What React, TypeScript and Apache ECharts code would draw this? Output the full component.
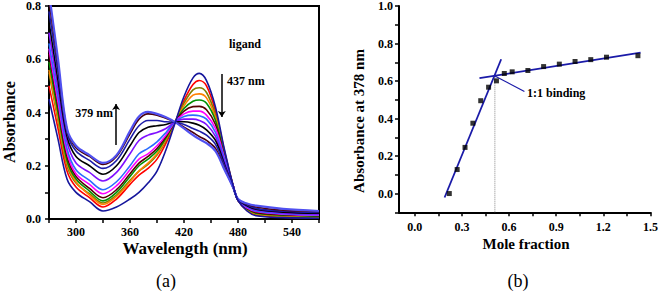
import React, { useEffect, useRef } from "react";
import * as echarts from "echarts";

// ---------- (a) UV-vis spectra ----------
const WAVELENGTHS = [270, 280, 290, 300, 315, 330, 345, 360, 370, 380, 390, 400, 410, 420, 430, 437, 445, 455, 465, 475, 480, 490, 500, 530, 570];

const S0 = [0.45, 0.3, 0.15, 0.1, 0.065, 0.03, 0.045, 0.075, 0.1, 0.135, 0.18, 0.26, 0.36, 0.46, 0.53, 0.547, 0.52, 0.42, 0.26, 0.12, 0.07, 0.03, 0.012, 0.005, 0.003];
const S1 = [0.5, 0.34, 0.18, 0.12, 0.08, 0.045, 0.075, 0.13, 0.165, 0.19, 0.225, 0.285, 0.362, 0.445, 0.505, 0.52, 0.5, 0.405, 0.255, 0.12, 0.07, 0.032, 0.015, 0.007, 0.005];
const S2 = [0.55, 0.37, 0.2, 0.135, 0.095, 0.06, 0.09, 0.145, 0.18, 0.205, 0.24, 0.295, 0.363, 0.435, 0.485, 0.493, 0.475, 0.39, 0.25, 0.12, 0.07, 0.034, 0.018, 0.01, 0.007];
const S3 = [0.56, 0.38, 0.21, 0.14, 0.09, 0.055, 0.085, 0.14, 0.18, 0.21, 0.245, 0.3, 0.364, 0.425, 0.465, 0.47, 0.455, 0.38, 0.245, 0.12, 0.07, 0.036, 0.02, 0.012, 0.009];
const S4 = [0.59, 0.4, 0.22, 0.15, 0.105, 0.068, 0.1, 0.16, 0.2, 0.225, 0.255, 0.305, 0.364, 0.415, 0.442, 0.447, 0.435, 0.37, 0.24, 0.12, 0.07, 0.038, 0.022, 0.014, 0.01];
const S5 = [0.62, 0.42, 0.235, 0.16, 0.115, 0.08, 0.11, 0.17, 0.21, 0.235, 0.265, 0.31, 0.364, 0.405, 0.422, 0.423, 0.41, 0.355, 0.235, 0.12, 0.07, 0.04, 0.025, 0.016, 0.012];
const S6 = [0.64, 0.44, 0.25, 0.17, 0.13, 0.095, 0.125, 0.185, 0.225, 0.245, 0.275, 0.315, 0.365, 0.395, 0.405, 0.405, 0.39, 0.34, 0.23, 0.12, 0.07, 0.042, 0.028, 0.018, 0.014];
const S7 = [0.66, 0.46, 0.265, 0.185, 0.145, 0.11, 0.14, 0.2, 0.245, 0.265, 0.29, 0.325, 0.365, 0.385, 0.39, 0.388, 0.375, 0.325, 0.225, 0.12, 0.07, 0.045, 0.03, 0.02, 0.016];
const S8 = [0.7, 0.49, 0.29, 0.21, 0.175, 0.143, 0.175, 0.245, 0.295, 0.315, 0.325, 0.34, 0.365, 0.375, 0.375, 0.37, 0.355, 0.31, 0.215, 0.12, 0.072, 0.048, 0.034, 0.023, 0.018];
const S9 = [0.74, 0.52, 0.31, 0.235, 0.2, 0.168, 0.2, 0.275, 0.325, 0.345, 0.35, 0.355, 0.365, 0.365, 0.36, 0.352, 0.335, 0.295, 0.205, 0.115, 0.072, 0.05, 0.037, 0.026, 0.022];
const S10 = [0.78, 0.55, 0.325, 0.255, 0.22, 0.19, 0.22, 0.3, 0.35, 0.37, 0.37, 0.365, 0.364, 0.355, 0.34, 0.33, 0.315, 0.28, 0.2, 0.115, 0.073, 0.053, 0.04, 0.029, 0.025];
const S11 = [0.82, 0.58, 0.335, 0.268, 0.235, 0.205, 0.235, 0.32, 0.375, 0.395, 0.39, 0.378, 0.364, 0.345, 0.325, 0.31, 0.295, 0.265, 0.19, 0.115, 0.074, 0.056, 0.045, 0.033, 0.028];
const S12 = [0.85, 0.6, 0.34, 0.275, 0.24, 0.211, 0.24, 0.33, 0.385, 0.402, 0.395, 0.382, 0.364, 0.34, 0.315, 0.3, 0.285, 0.255, 0.185, 0.115, 0.075, 0.058, 0.05, 0.038, 0.03];

const SPECTRA = [S0, S1, S2, S3, S4, S5, S6, S7, S8, S9, S10, S11, S12];
const SPECTRA_COLORS = ["#16169c", "#ff0000", "#7f7f00", "#ff8000", "#009000", "#560000", "#ff00ff", "#2a6cff", "#7f10ff", "#000000", "#1c1ca8", "#4a0010", "#5050f0"];

const A_X_TICKS = [270, 300, 330, 360, 390, 420, 450, 480, 510, 540, 570];
const A_X_LABELS = [300, 360, 420, 480, 540];
const A_Y_TICKS = [0, 0.1, 0.2, 0.3, 0.4, 0.5, 0.6, 0.7, 0.8];
const A_Y_LABELS = [0, 0.2, 0.4, 0.6, 0.8];

// ---------- (b) Job plot ----------
const MOLE_FRACTION = [0.22, 0.27, 0.32, 0.37, 0.42, 0.47, 0.52, 0.57, 0.62, 0.72, 0.82, 0.92, 1.02, 1.12, 1.22, 1.42];
const ABS_378 = [0.0, 0.128, 0.246, 0.375, 0.495, 0.567, 0.601, 0.64, 0.649, 0.656, 0.677, 0.69, 0.704, 0.714, 0.727, 0.735];

const FIT_STEEP_X = [0.19, 0.55];
const FIT_STEEP_Y = [-0.021, 0.716];
const FIT_FLAT_X = [0.412, 1.437];
const FIT_FLAT_Y = [0.615, 0.751];
const BINDING_POINT = [0.51, 0.627];
const LABEL_POINT = [0.698, 0.544];

const B_X_TICKS = [0, 0.15, 0.3, 0.45, 0.6, 0.75, 0.9, 1.05, 1.2, 1.35, 1.5];
const B_X_LABELS = [0, 0.3, 0.6, 0.9, 1.2, 1.5];
const B_Y_TICKS = [-0.1, 0, 0.1, 0.2, 0.3, 0.4, 0.5, 0.6, 0.7, 0.8, 0.9, 1.0];
const B_Y_LABELS = [0, 0.2, 0.4, 0.6, 0.8, 1.0];

const SERIF = '"Liberation Serif", "Times New Roman", serif';
const NAVY = "#1a1aa8";

function axisCommon(ticks: number[], labels: number[], fmt: (v: number) => string, margin: number) {
  return {
    axisLine: { show: true, onZero: false, lineStyle: { color: "#000", width: 2 } },
    axisTick: { show: true, inside: false, length: 4, customValues: ticks, lineStyle: { color: "#000", width: 1.5 } },
    axisLabel: {
      show: true,
      customValues: labels,
      formatter: (v: number) => fmt(v),
      fontFamily: SERIF,
      fontWeight: "bold",
      fontSize: 12,
      color: "#000",
      margin,
    },
    splitLine: { show: false },
  };
}

function text(x: number, y: number, s: string, size: number, opts: any = {}) {
  return {
    type: "text",
    x,
    y,
    rotation: opts.rotation || 0,
    style: {
      text: s,
      fontFamily: SERIF,
      fontWeight: opts.bold === false ? "normal" : "bold",
      fontSize: size,
      fill: "#000",
      align: opts.align || "center",
      verticalAlign: "middle",
    },
  };
}

export default function App() {
  const ref = useRef<HTMLDivElement>(null);
  useEffect(() => {
    const chart = echarts.init(ref.current!, null, { renderer: "svg" });
    const spectraSeries = SPECTRA.map((arr, i) => ({
      type: "line",
      xAxisIndex: 0,
      yAxisIndex: 0,
      data: WAVELENGTHS.map((w, k) => [w, arr[k]]),
      showSymbol: false,
      symbol: "none",
      smooth: 0.35,
      clip: true,
      lineStyle: { color: SPECTRA_COLORS[i], width: i === 12 ? 2.2 : 1.6 },
      z: 2 + (i === 0 ? 20 : i),
    }));
    const arrowSeries = {
      type: "line",
      xAxisIndex: 0,
      yAxisIndex: 0,
      data: [],
      markLine: {
        silent: true,
        symbol: ["none", "arrow"],
        symbolSize: 6,
        label: { show: false },
        lineStyle: { color: "#000", width: 1.5, type: "solid" },
        data: [
          [{ coord: [462, 0.545] }, { coord: [462, 0.383] }],
          [{ coord: [344.5, 0.278] }, { coord: [344.5, 0.432] }],
        ],
      },
    };
    const option: any = {
      animation: false,
      backgroundColor: "#fff",
      grid: [
        { left: 49, right: 342, top: 6, bottom: 72, show: true, borderColor: "#000", borderWidth: 2, backgroundColor: "transparent" },
        { left: 399, right: 9, top: 6, bottom: 78.7, show: false },
      ],
      xAxis: [
        { type: "value", gridIndex: 0, min: 270, max: 570, ...axisCommon(A_X_TICKS, A_X_LABELS, (v) => String(Math.round(v)), 7) },
        { type: "value", gridIndex: 1, min: -0.1, max: 1.5, ...axisCommon(B_X_TICKS, B_X_LABELS, (v) => v.toFixed(1), 9) },
      ],
      yAxis: [
        { type: "value", gridIndex: 0, min: 0, max: 0.8, interval: 0.2, ...axisCommon(A_Y_TICKS, A_Y_LABELS, (v) => v.toFixed(1), 8) },
        { type: "value", gridIndex: 1, min: -0.1, max: 1.0, ...axisCommon(B_Y_TICKS, B_Y_LABELS, (v) => v.toFixed(1), 6) },
      ],
      series: [
        ...spectraSeries,
        arrowSeries,
        {
          type: "line",
          xAxisIndex: 1,
          yAxisIndex: 1,
          data: [[BINDING_POINT[0], -0.1], [BINDING_POINT[0], BINDING_POINT[1]]],
          symbol: "none",
          lineStyle: { color: "#888", width: 1, type: "dotted" },
        },
        {
          type: "line",
          xAxisIndex: 1,
          yAxisIndex: 1,
          data: FIT_STEEP_X.map((x, k) => [x, FIT_STEEP_Y[k]]),
          symbol: "none",
          lineStyle: { color: NAVY, width: 1.8 },
        },
        {
          type: "line",
          xAxisIndex: 1,
          yAxisIndex: 1,
          data: FIT_FLAT_X.map((x, k) => [x, FIT_FLAT_Y[k]]),
          symbol: "none",
          lineStyle: { color: NAVY, width: 1.8 },
        },
        {
          type: "line",
          xAxisIndex: 1,
          yAxisIndex: 1,
          data: [BINDING_POINT, LABEL_POINT],
          symbol: "none",
          lineStyle: { color: NAVY, width: 1.2 },
        },
        {
          type: "scatter",
          xAxisIndex: 1,
          yAxisIndex: 1,
          data: MOLE_FRACTION.map((x, k) => [x, ABS_378[k]]),
          symbol: "rect",
          symbolSize: 5,
          itemStyle: { color: "#000" },
          z: 5,
        },
      ],
      graphic: [
        text(9, 122, "Absorbance", 16, { rotation: Math.PI / 2 }),
        text(185, 248, "Wavelength (nm)", 17),
        text(166, 281, "(a)", 18, { bold: false }),
        text(245, 44, "ligand", 12),
        text(227, 81, "437 nm", 12, { align: "left" }),
        text(113, 113, "379 nm", 12, { align: "right" }),
        text(359, 121, "Absorbance at 378 nm", 15, { rotation: Math.PI / 2 }),
        text(526, 244, "Mole fraction", 15),
        text(518, 281, "(b)", 18, { bold: false }),
        text(527, 93, "1:1 binding", 12, { align: "left" }),
      ],
    };
    chart.setOption(option);
    return () => chart.dispose();
  }, []);
  return (
    <div
      ref={ref}
      style={{ position: "absolute", left: 0, top: 0, width: 661, height: 291, background: "#fff" }}
    />
  );
}
